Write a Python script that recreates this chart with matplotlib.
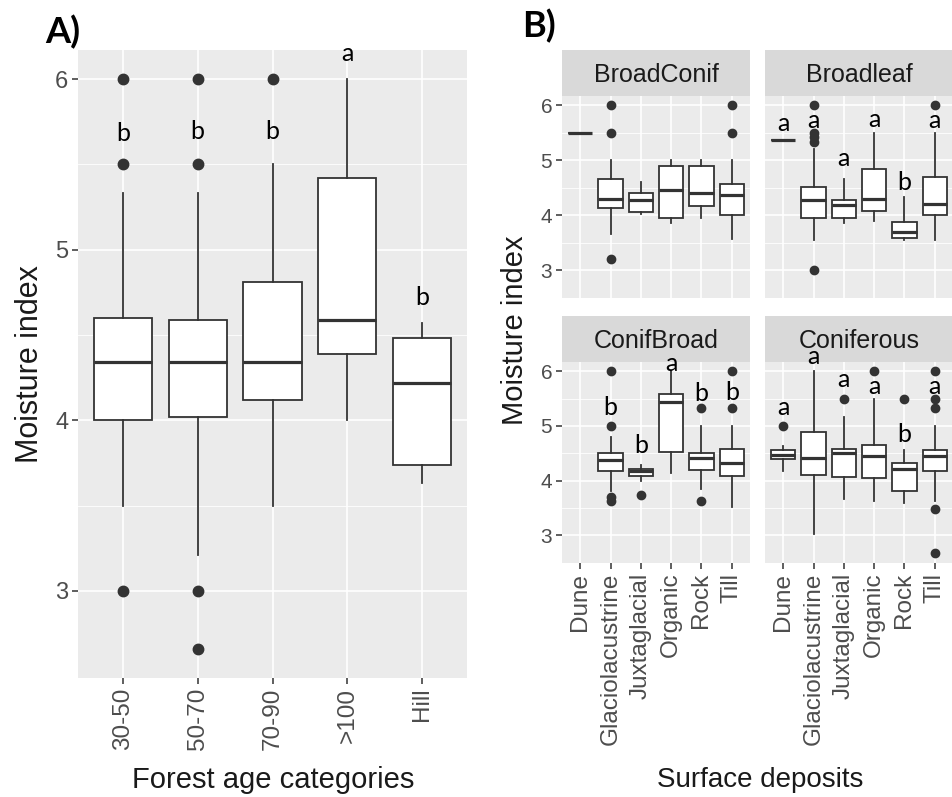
import matplotlib.pyplot as plt
import numpy as np

# ---- Panel A: moisture index by forest age category ----
age_cats = ["30-50", "50-70", "70-90", ">100", "Hill"]
age_whislo = [3.50, 3.21, 3.50, 4.00, 3.63]
age_q1 = [4.00, 4.02, 4.12, 4.39, 3.74]
age_med = [4.34, 4.34, 4.34, 4.59, 4.22]
age_q3 = [4.60, 4.59, 4.81, 5.42, 4.48]
age_whishi = [5.33, 5.33, 5.50, 6.00, 4.57]
age_fliers = [[6.0, 5.5, 3.0], [6.0, 5.5, 3.0, 2.66], [6.0], [], []]
age_letters = ["b", "b", "b", "a", "b"]
age_letter_y = [5.68, 5.69, 5.69, 6.15, 4.72]

# ---- Panel B: moisture index by surface deposit, faceted by forest type ----
facets = ["BroadConif", "Broadleaf", "ConifBroad", "Coniferous"]
deposits = ["Dune", "Glaciolacustrine", "Juxtaglacial", "Organic", "Rock", "Till"]
nan = np.nan
dep_whislo = [
    [5.50, 3.65, 4.02, 3.85, 3.94, 3.56],
    [5.37, 3.54, 3.85, 3.90, 3.54, 3.54],
    [nan, 3.81, 3.99, 4.14, 3.84, 3.51],
    [4.17, 3.02, 3.66, 3.62, 3.58, 3.62],
]
dep_q1 = [
    [5.50, 4.13, 4.06, 3.94, 4.17, 4.00],
    [5.37, 3.94, 3.95, 4.08, 3.59, 4.00],
    [nan, 4.17, 4.08, 4.53, 4.20, 4.09],
    [4.39, 4.11, 4.06, 4.05, 3.81, 4.18],
]
dep_med = [
    [5.50, 4.30, 4.27, 4.45, 4.40, 4.36],
    [5.37, 4.27, 4.18, 4.30, 3.69, 4.21],
    [nan, 4.38, 4.17, 5.43, 4.41, 4.32],
    [4.47, 4.41, 4.50, 4.45, 4.21, 4.45],
]
dep_q3 = [
    [5.50, 4.66, 4.40, 4.90, 4.90, 4.57],
    [5.37, 4.51, 4.28, 4.84, 3.88, 4.69],
    [nan, 4.50, 4.21, 5.59, 4.50, 4.57],
    [4.56, 4.89, 4.57, 4.65, 4.32, 4.56],
]
dep_whishi = [
    [5.50, 5.00, 4.61, 5.00, 5.00, 5.00],
    [5.37, 5.20, 4.66, 5.49, 4.33, 5.49],
    [nan, 4.80, 4.29, 6.00, 5.00, 5.00],
    [4.63, 6.00, 5.16, 5.49, 4.56, 5.00],
]
dep_fliers = [
    [[], [6.0, 5.5, 3.2], [], [], [], [6.0, 5.5]],
    [[], [6.0, 5.5, 5.42, 5.33, 3.0], [], [], [], [6.0]],
    [[], [6.0, 5.0, 3.7, 3.62], [3.73], [], [5.33, 3.63], [6.0, 5.33]],
    [[5.0], [], [5.49], [6.0], [5.5], [6.0, 5.49, 5.33, 3.48, 2.67]],
]
dep_letters = [
    ["", "", "", "", "", ""],
    ["a", "a", "a", "a", "b", "a"],
    ["", "b", "b", "a", "b", "b"],
    ["a", "a", "a", "a", "b", "a"],
]
dep_letter_y = [
    [nan] * 6,
    [5.67, 5.73, 5.04, 5.75, 4.60, 5.73],
    [nan, 5.33, 4.64, 6.14, 5.60, 5.61],
    [5.33, 6.27, 5.85, 5.72, 4.85, 5.72],
]

W, H = 953, 797
PANEL = "#EBEBEB"
DARK = "#333333"
TICKTXT = "#4D4D4D"
SANS = "Liberation Sans"
LETTER = "Lato"

plt.rcParams["font.family"] = SANS

fig = plt.figure(figsize=(W / 100, H / 100), dpi=100)


def px_axes(x0, y0, x1, y1):
    return fig.add_axes([x0 / W, 1 - y1 / H, (x1 - x0) / W, (y1 - y0) / H])


def gg_style(ax, ylim, n):
    ax.set_facecolor(PANEL)
    for s in ax.spines.values():
        s.set_visible(False)
    ax.set_xlim(0.4, n + 0.6)
    ax.set_ylim(*ylim)
    ax.set_xticks(range(1, n + 1))
    ax.set_yticks([3, 4, 5, 6])
    ax.set_yticks([3.5, 4.5, 5.5], minor=True)
    ax.grid(True, which="major", color="white", linewidth=1.2)
    ax.grid(True, which="minor", axis="y", color="white", linewidth=0.6)
    ax.set_axisbelow(True)
    ax.tick_params(which="major", color=DARK, length=4, width=1.1,
                   labelcolor=TICKTXT, pad=3)
    ax.tick_params(which="minor", length=0)


def draw_boxes(ax, lo, q1, med, q3, hi, fliers, width, ms):
    stats, pos = [], []
    for i in range(len(lo)):
        if np.isnan(med[i]):
            continue
        stats.append(dict(whislo=lo[i], q1=q1[i], med=med[i], q3=q3[i],
                          whishi=hi[i], fliers=fliers[i]))
        pos.append(i + 1)
    ax.bxp(stats, positions=pos, widths=width, patch_artist=True,
           showcaps=False, manage_ticks=False,
           boxprops=dict(facecolor="white", edgecolor=DARK, linewidth=1.3),
           medianprops=dict(color=DARK, linewidth=2.3),
           whiskerprops=dict(color=DARK, linewidth=1.3),
           flierprops=dict(marker="o", markerfacecolor=DARK,
                           markeredgecolor=DARK, markersize=ms))


YLIM = (2.49, 6.17)

# ---------------- Panel A ----------------
axA = px_axes(78, 50, 467, 678)
gg_style(axA, YLIM, len(age_cats))
draw_boxes(axA, age_whislo, age_q1, age_med, age_q3, age_whishi,
           age_fliers, 0.78, 7.5)
axA.set_xticklabels(age_cats, rotation=90, fontsize=17.5)
axA.set_yticklabels(["3", "4", "5", "6"], fontsize=17)
for i, (t, y) in enumerate(zip(age_letters, age_letter_y)):
    axA.text(i + 1, y, t, ha="center", va="center", fontsize=18,
             family=LETTER, color="black", clip_on=False, zorder=10)

fig.text(30 / W, 1 - 364 / H, "Moisture index", rotation=90, ha="center",
         va="center", fontsize=22, color="#1A1A1A")
fig.text(273 / W, 1 - 780 / H, "Forest age categories", ha="center",
         va="center", fontsize=21, color="#1A1A1A")
fig.text(45 / W, 1 - 32 / H, "A)", ha="left", va="center", fontsize=26,
         fontweight="bold", family=LETTER, color="black")

# ---------------- Panel B ----------------
boxes_px = [(562, 96, 750, 298), (765, 96, 953, 298),
            (562, 362, 750, 563), (765, 362, 953, 563)]
strip_h = 46
for k, name in enumerate(facets):
    x0, y0, x1, y1 = boxes_px[k]
    ax = px_axes(x0, y0, x1, y1)
    gg_style(ax, YLIM, len(deposits))
    draw_boxes(ax, dep_whislo[k], dep_q1[k], dep_med[k], dep_q3[k],
               dep_whishi[k], dep_fliers[k], 0.8, 6)
    if k >= 2:
        ax.set_xticklabels(deposits, rotation=90, fontsize=17.5)
    else:
        ax.tick_params(axis="x", length=0, labelbottom=False)
    if k % 2 == 0:
        ax.set_yticklabels(["3", "4", "5", "6"], fontsize=15)
    else:
        ax.tick_params(axis="y", length=0, labelleft=False)
    for i, (t, y) in enumerate(zip(dep_letters[k], dep_letter_y[k])):
        if t:
            ax.text(i + 1, y, t, ha="center", va="center", fontsize=18,
                    family=LETTER, color="black", clip_on=False, zorder=10)

    sax = px_axes(x0, y0 - strip_h, x1, y0)
    sax.set_facecolor("#D9D9D9")
    sax.set_xticks([])
    sax.set_yticks([])
    for s in sax.spines.values():
        s.set_visible(False)
    sax.text(0.5, 0.45, name, ha="center", va="center", fontsize=18,
             color="#1A1A1A", transform=sax.transAxes)
    sax.set_zorder(-1)

fig.text(515 / W, 1 - 330 / H, "Moisture index", rotation=90, ha="center",
         va="center", fontsize=21, color="#1A1A1A")
fig.text(760 / W, 1 - 780 / H, "Surface deposits", ha="center",
         va="center", fontsize=20, color="#1A1A1A")
fig.text(522 / W, 1 - 26 / H, "B)", ha="left", va="center", fontsize=26,
         fontweight="bold", family=LETTER, color="black")

fig.savefig("out.png", dpi=100)
